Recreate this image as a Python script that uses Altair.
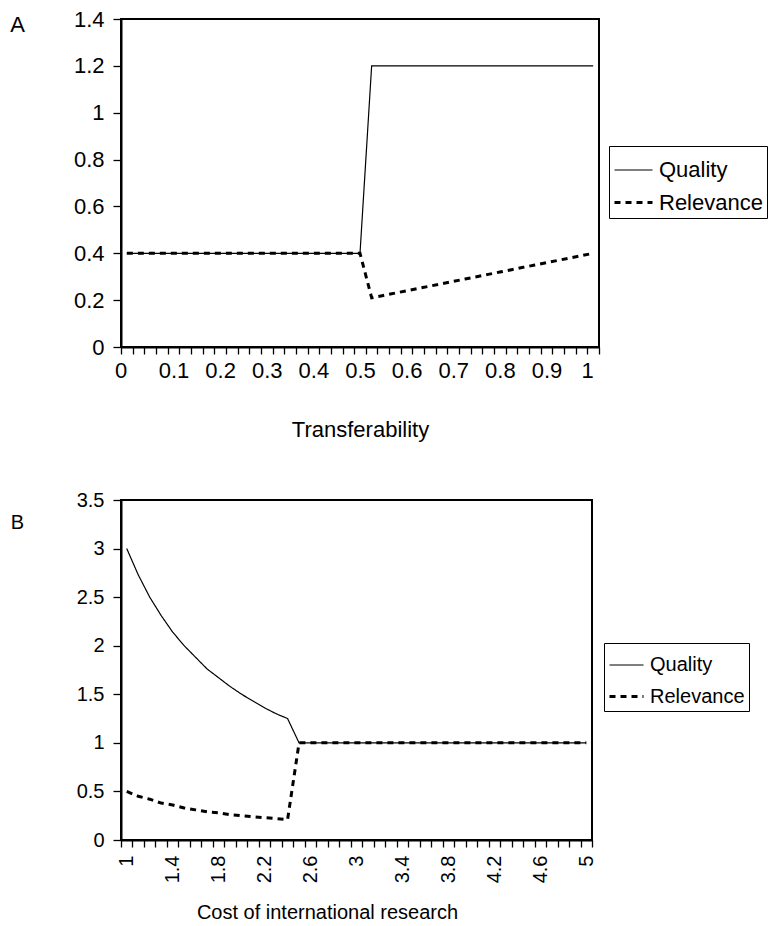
import altair as alt
import pandas as pd

FONT = "Liberation Sans"

# ---------------- Panel A data ----------------
transfer = [0.0, 0.025, 0.05, 0.075, 0.1, 0.125, 0.15, 0.175, 0.2, 0.225,
            0.25, 0.275, 0.3, 0.325, 0.35, 0.375, 0.4, 0.425, 0.45, 0.475,
            0.5, 0.525, 0.55, 0.575, 0.6, 0.625, 0.65, 0.675, 0.7, 0.725,
            0.75, 0.775, 0.8, 0.825, 0.85, 0.875, 0.9, 0.925, 0.95, 0.975, 1.0]
quality_a = [0.4] * 21 + [1.2] * 20
relevance_a = [0.4] * 21 + [0.21, 0.22, 0.23, 0.24, 0.25, 0.26, 0.27, 0.28, 0.29, 0.30,
                            0.31, 0.32, 0.33, 0.34, 0.35, 0.36, 0.37, 0.38, 0.39, 0.40]

# ---------------- Panel B data ----------------
cost = [1.0, 1.1, 1.2, 1.3, 1.4, 1.5, 1.6, 1.7, 1.8, 1.9,
        2.0, 2.1, 2.2, 2.3, 2.4, 2.5, 2.6, 2.7, 2.8, 2.9,
        3.0, 3.1, 3.2, 3.3, 3.4, 3.5, 3.6, 3.7, 3.8, 3.9,
        4.0, 4.1, 4.2, 4.3, 4.4, 4.5, 4.6, 4.7, 4.8, 4.9, 5.0]
quality_b = [3.00, 2.73, 2.50, 2.31, 2.14, 2.00, 1.88, 1.76, 1.67, 1.58,
             1.50, 1.43, 1.36, 1.30, 1.25] + [1.0] * 26
relevance_b = [0.50, 0.45, 0.42, 0.38, 0.36, 0.33, 0.31, 0.29, 0.28, 0.26,
               0.25, 0.24, 0.23, 0.22, 0.21] + [1.0] * 26

series = ["Quality", "Relevance"]

df_a = pd.DataFrame(
    {"x": transfer * 2, "value": quality_a + relevance_a,
     "series": ["Quality"] * len(transfer) + ["Relevance"] * len(transfer)})
df_b = pd.DataFrame(
    {"x": cost * 2, "value": quality_b + relevance_b,
     "series": ["Quality"] * len(cost) + ["Relevance"] * len(cost)})

# category-axis tick marks sit between categories; labels on every 4th category
a_step = 0.025
a_vals = [round(-a_step / 2 + a_step * k, 5) for k in range(42)] + [round(0.1 * k, 1) for k in range(11)]
b_step = 0.1
b_vals = [round(1 - b_step / 2 + b_step * k, 5) for k in range(42)] + [round(1 + 0.4 * k, 1) for k in range(11)]

a_is_label = "abs(datum.value*10 - round(datum.value*10)) < 0.01"
b_is_label = "abs((datum.value-1)/0.4 - round((datum.value-1)/0.4)) < 0.01"


def legend(fs, lx, ly, sym, extra, rowpad):
    return alt.Legend(
        title=None, orient="none", legendX=lx, legendY=ly,
        symbolType="stroke", symbolSize=sym * sym, symbolStrokeColor="black",
        labelFont=FONT, labelFontSize=fs, labelColor="black", labelOffset=5,
        labelExpr="datum.label" + extra,
        strokeColor="black", fillColor="white", padding=4, rowPadding=rowpad,
    )


def panel(df, xdom, xvals, is_label, xaxis_extra, ydom, yvals, letter, letter_y,
          fs, w, h, lx, ly, sym, extra, rowpad):
    xaxis = alt.Axis(
        values=xvals,
        labelExpr=f"({is_label}) ? toString(round(datum.value*10)/10) : ''",
        tickOpacity={"condition": {"test": is_label, "value": 0}, "value": 1},
        labelOverlap=False, labelFlush=False, grid=False,
        tickSize=7, tickWidth=1.3, tickColor="black",
        domainColor="black", domainWidth=2,
        labelFont=FONT, labelFontSize=fs, labelColor="black",
        titleFont=FONT, titleFontSize=fs, titleFontWeight="normal", titleColor="black",
        **xaxis_extra,
    )
    yaxis = alt.Axis(
        values=yvals, format=".1~f", grid=False,
        tickSize=8, tickWidth=1.3, tickColor="black",
        domainColor="black", domainWidth=2, labelPadding=9,
        labelFont=FONT, labelFontSize=fs, labelColor="black",
        title=letter, titleAngle=0, titleX=-104, titleY=letter_y,
        titleAlign="center", titleBaseline="middle",
        titleFont=FONT, titleFontSize=fs, titleFontWeight="normal", titleColor="black",
    )
    return alt.Chart(df).mark_line(color="black", strokeCap="butt").encode(
        x=alt.X("x:Q", scale=alt.Scale(domain=xdom, nice=False, zero=False), axis=xaxis),
        y=alt.Y("value:Q", scale=alt.Scale(domain=ydom, nice=False, zero=True), axis=yaxis),
        strokeDash=alt.StrokeDash("series:N", scale=alt.Scale(domain=series, range=[[1, 0], [6, 5]]),
                                  legend=legend(fs, lx, ly, sym, extra, rowpad)),
        strokeWidth=alt.StrokeWidth("series:N", scale=alt.Scale(domain=series, range=[1.2, 3]),
                                    legend=legend(fs, lx, ly, sym, extra, rowpad)),
    ).properties(width=w, height=h)


top = panel(
    df_a, [-0.0125, 1.0125], a_vals, a_is_label,
    dict(title="Transferability", titlePadding=38, labelPadding=6,
         labelAlign={"condition": {"test": "datum.value < 0.001 || datum.value > 0.999", "value": "right"},
                     "value": "center"}),
    [0, 1.4], [0, 0.2, 0.4, 0.6, 0.8, 1.0, 1.2, 1.4], "A", 5,
    22, 478, 328, 488, 127, 38, " + ' '", 1,
)

bottom = panel(
    df_b, [0.95, 5.05], b_vals, b_is_label,
    dict(title="Cost of international research", titlePadding=20, labelPadding=8,
         labelAngle=-90, titleX=206),
    [0, 3.5], [0, 0.5, 1.0, 1.5, 2.0, 2.5, 3.0, 3.5], "B", 22,
    20, 471, 340, 483, 143, 34, "", 3,
)

chart = alt.vconcat(top, bottom, spacing=48).resolve_scale(
    strokeDash="independent", strokeWidth="independent"
).resolve_legend(
    strokeDash="independent", strokeWidth="independent"
).properties(
    padding={"left": 8, "top": 7, "right": 0, "bottom": 4}
).configure(
    background="white", view=alt.ViewConfig(stroke="black", strokeWidth=2)
)

chart.save("out.html", embed_options={"renderer": "svg", "actions": False})
